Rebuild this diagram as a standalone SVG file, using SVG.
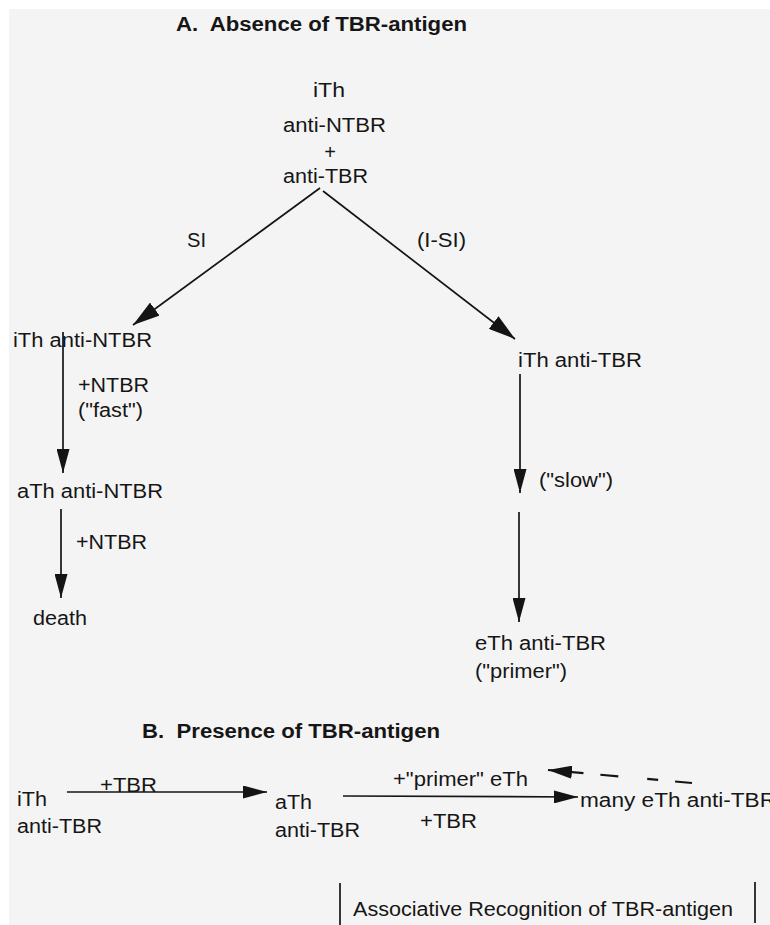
<svg xmlns="http://www.w3.org/2000/svg" width="770" height="925" viewBox="0 0 770 925">
<style>
text{font-family:"Liberation Sans",Arial,sans-serif;font-size:20px;fill:#161616}
.b{font-weight:bold}
.ln{stroke:#141414;stroke-width:1.7;fill:none}
.d{stroke-width:2.2;stroke-dasharray:17 17 11 29 18 17 60}
</style>
<defs>
<marker id="ah" markerUnits="userSpaceOnUse" markerWidth="24" markerHeight="13" refX="24" refY="6.5" orient="auto" viewBox="0 0 24 13">
<path d="M0,0 L24,6.5 L0,13 z" fill="#141414"/>
</marker>
<marker id="ahL" markerUnits="userSpaceOnUse" markerWidth="27" markerHeight="16" refX="27" refY="8" orient="auto" viewBox="0 0 27 16">
<path d="M0,0 L27,8 L0,16 z" fill="#141414"/>
</marker>
</defs>
<rect x="0" y="0" width="770" height="925" fill="#ffffff"/>
<rect x="9" y="9" width="761" height="916" fill="#f4f4f4"/>

<g id="titleA"><text class="b" x="176" y="31" textLength="291" lengthAdjust="spacingAndGlyphs">A.&#160; Absence of TBR-antigen</text></g>

<g id="n-top">
<text x="313" y="97" textLength="32" lengthAdjust="spacingAndGlyphs">iTh</text>
<text x="283" y="132" textLength="103" lengthAdjust="spacingAndGlyphs">anti-NTBR</text>
<text x="330" y="159" text-anchor="middle">+</text>
<text x="283" y="183" textLength="85" lengthAdjust="spacingAndGlyphs">anti-TBR</text>
</g>

<g id="n-ith-antintbr"><text x="13" y="347" textLength="139" lengthAdjust="spacingAndGlyphs">iTh anti-NTBR</text></g>
<g id="n-ath-antintbr"><text x="17" y="498" textLength="146" lengthAdjust="spacingAndGlyphs">aTh anti-NTBR</text></g>
<g id="n-death"><text x="33" y="625" textLength="54" lengthAdjust="spacingAndGlyphs">death</text></g>
<g id="n-ith-antitbr"><text x="518" y="367" textLength="124" lengthAdjust="spacingAndGlyphs">iTh anti-TBR</text></g>
<g id="n-eth-antitbr">
<text x="475" y="650" textLength="131" lengthAdjust="spacingAndGlyphs">eTh anti-TBR</text>
<text x="475" y="678" textLength="92" lengthAdjust="spacingAndGlyphs">("primer")</text>
</g>

<g id="titleB"><text class="b" x="142" y="738" textLength="298" lengthAdjust="spacingAndGlyphs">B.&#160; Presence of TBR-antigen</text></g>

<g id="b-ith">
<text x="17" y="806" textLength="30" lengthAdjust="spacingAndGlyphs">iTh</text>
<text x="17" y="833" textLength="85" lengthAdjust="spacingAndGlyphs">anti-TBR</text>
</g>
<g id="b-ath">
<text x="275" y="809" textLength="37" lengthAdjust="spacingAndGlyphs">aTh</text>
<text x="275" y="837" textLength="85" lengthAdjust="spacingAndGlyphs">anti-TBR</text>
</g>
<g id="b-many"><text x="580" y="807" textLength="196" lengthAdjust="spacingAndGlyphs">many eTh anti-TBR</text></g>

<g id="assoc">
<line class="ln" x1="340" y1="883" x2="340" y2="925"/>
<line class="ln" x1="755" y1="882" x2="755" y2="923"/>
<text x="353" y="916" textLength="380" lengthAdjust="spacingAndGlyphs">Associative Recognition of TBR-antigen</text>
</g>

<g id="connectors">
<line class="ln" x1="320" y1="188" x2="133" y2="325" marker-end="url(#ahL)"/>
<line class="ln" x1="323" y1="191" x2="515" y2="339" marker-end="url(#ahL)"/>
<line class="ln" x1="63" y1="332" x2="63" y2="473" marker-end="url(#ah)"/>
<line class="ln" x1="61" y1="509" x2="61" y2="598" marker-end="url(#ah)"/>
<line class="ln" x1="520" y1="374" x2="520" y2="493" marker-end="url(#ah)"/>
<line class="ln" x1="519" y1="512" x2="519" y2="622" marker-end="url(#ah)"/>
<line class="ln" x1="67" y1="792" x2="267" y2="792" marker-end="url(#ah)"/>
<line class="ln" x1="343" y1="796" x2="578" y2="797" marker-end="url(#ah)"/>
<line class="ln d" x1="692" y1="783" x2="548" y2="770" marker-end="url(#ah)"/>
</g>

<g id="edge-labels">
<text x="187" y="247" textLength="19" lengthAdjust="spacingAndGlyphs">SI</text>
<text x="417" y="247" textLength="49" lengthAdjust="spacingAndGlyphs">(I-SI)</text>
<text x="78" y="392" textLength="71" lengthAdjust="spacingAndGlyphs">+NTBR</text>
<text x="78" y="417" textLength="65" lengthAdjust="spacingAndGlyphs">("fast")</text>
<text x="76" y="549" textLength="71" lengthAdjust="spacingAndGlyphs">+NTBR</text>
<text x="539" y="487" textLength="74" lengthAdjust="spacingAndGlyphs">("slow")</text>
<text x="100" y="792" textLength="57" lengthAdjust="spacingAndGlyphs">+TBR</text>
<text x="393" y="786" textLength="135" lengthAdjust="spacingAndGlyphs">+"primer" eTh</text>
<text x="420" y="828" textLength="57" lengthAdjust="spacingAndGlyphs">+TBR</text>
</g>
</svg>
